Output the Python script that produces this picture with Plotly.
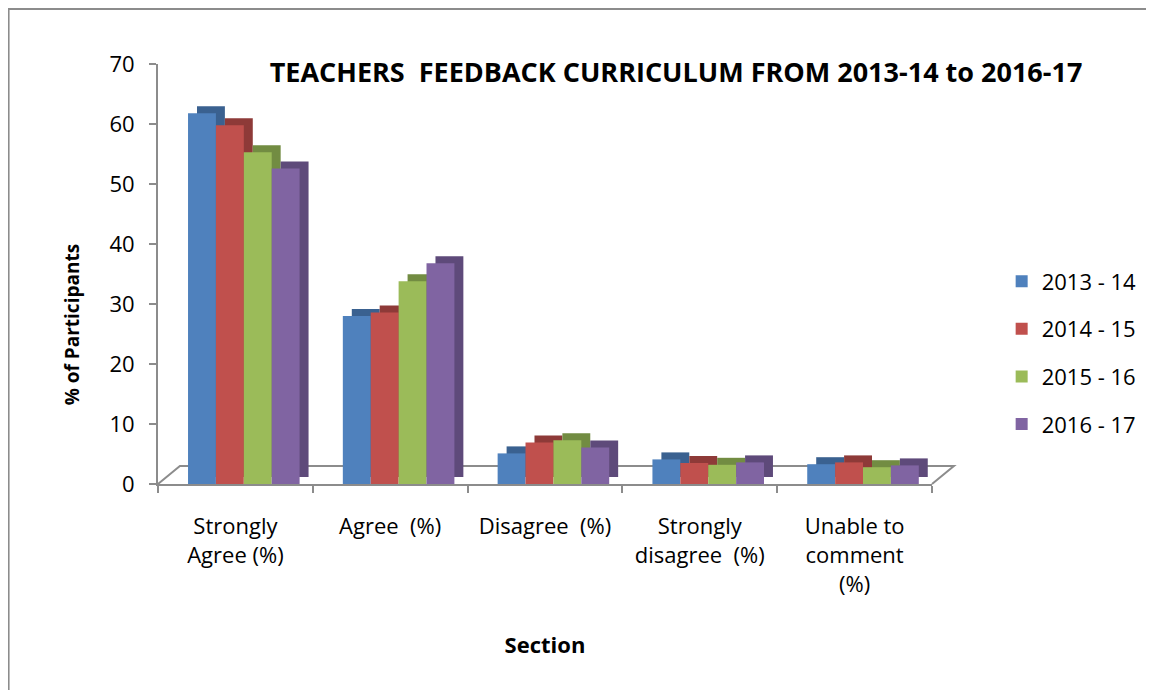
import plotly.graph_objects as go

categories = ["Strongly<br>Agree (%)", "Agree  (%)", "Disagree  (%)",
              "Strongly<br>disagree  (%)", "Unable to<br>comment<br>(%)"]
series_names = ["2013 - 14", "2014 - 15", "2015 - 16", "2016 - 17"]
v_2013 = [61.8, 28.0, 5.1, 4.1, 3.3]
v_2014 = [59.8, 28.6, 6.9, 3.5, 3.6]
v_2015 = [55.3, 33.8, 7.3, 3.2, 2.8]
v_2016 = [52.6, 36.8, 6.1, 3.6, 3.1]
colors = ["#4F81BD", "#C0504D", "#9BBB59", "#8064A2"]
side = ["#3A6190", "#8E3A38", "#728C42", "#5E4A7A"]

FONT = "Open Sans, Liberation Sans, sans-serif"
GRAY = "#8C8C8C"

W, H = 1146, 682
L, R, T, B = 150, 219, 56, 206
PW, PH = W - L - R, H - T - B
CAT = PW / len(categories)          # px per category
BW = 28 / CAT                       # bar front width (category units)
START = -0.306                      # left edge of the group
DX = 9 / CAT                        # 3-D depth shift (x)
DY = 7 * 70 / PH                    # 3-D depth shift (y, data units)

all_vals = [v_2013, v_2014, v_2015, v_2016]
fig = go.Figure()
# depth (side/top) faces first
for i, (name, vals) in enumerate(zip(series_names, all_vals)):
    fig.add_trace(go.Bar(
        x=categories, y=vals, base=DY, name=name, showlegend=False,
        width=BW, offset=START + i * BW + DX, hoverinfo="skip",
        marker=dict(color=side[i], line=dict(width=0)),
    ))
# front faces
for i, (name, vals) in enumerate(zip(series_names, all_vals)):
    fig.add_trace(go.Bar(
        x=categories, y=vals, name=name, legendgroup=name,
        width=BW, offset=START + i * BW,
        marker=dict(color=colors[i], line=dict(width=0)),
    ))

fig.update_layout(
    width=W, height=H,
    margin=dict(l=L, r=R, t=T, b=B),
    paper_bgcolor="white", plot_bgcolor="white",
    barmode="overlay",
    font=dict(family=FONT, size=22, color="black"),
    title=dict(text="<b>TEACHERS  FEEDBACK CURRICULUM FROM 2013-14 to 2016-17</b>",
               x=668 / W, xref="container", xanchor="center",
               y=1 - 65 / H, yanchor="middle",
               font=dict(size=27, family=FONT)),
    legend=dict(x=1.090, y=0.312, xanchor="left", yanchor="middle",
                tracegroupgap=16, font=dict(size=22), traceorder="grouped"),
    showlegend=True,
)
fig.update_yaxes(range=[0, 70], dtick=10, showgrid=False, zeroline=False,
                 showline=True, linecolor=GRAY, linewidth=2,
                 ticks="outside", ticklen=7, tickcolor=GRAY, tickwidth=2,
                 ticklabelstandoff=10, tickfont=dict(size=22))
fig.update_xaxes(showgrid=False, showline=True, linecolor=GRAY, linewidth=2,
                 ticks="outside", ticklen=7, tickcolor=GRAY, tickwidth=2,
                 tickson="boundaries", ticklabelstandoff=22, tickfont=dict(size=22),
                 title=dict(text="<b>Section</b>", font=dict(size=22), standoff=41))

fig.add_annotation(text="<b>% of Participants</b>", textangle=-90,
                   xref="paper", yref="paper", x=(64 - L) / PW, y=(476 - 317) / PH,
                   xanchor="center", yanchor="middle", showarrow=False,
                   font=dict(size=19, family=FONT))

# 3-D floor outline
dx, dy = 22 / PW, 18 / PH
fig.add_shape(type="path", xref="paper", yref="paper",
              path=f"M 0 0 L {dx} {dy} L {1 + dx} {dy} L 1 0",
              line=dict(color=GRAY, width=2), layer="below")

# chart outer frame
fig.add_shape(type="rect", xref="paper", yref="paper",
              x0=-L / PW, x1=(W - L + 40) / PW, y0=-(B + 40) / PH, y1=1 + (T - 1) / PH,
              line=dict(color=GRAY, width=2), layer="below")

fig.write_html("out.html")
